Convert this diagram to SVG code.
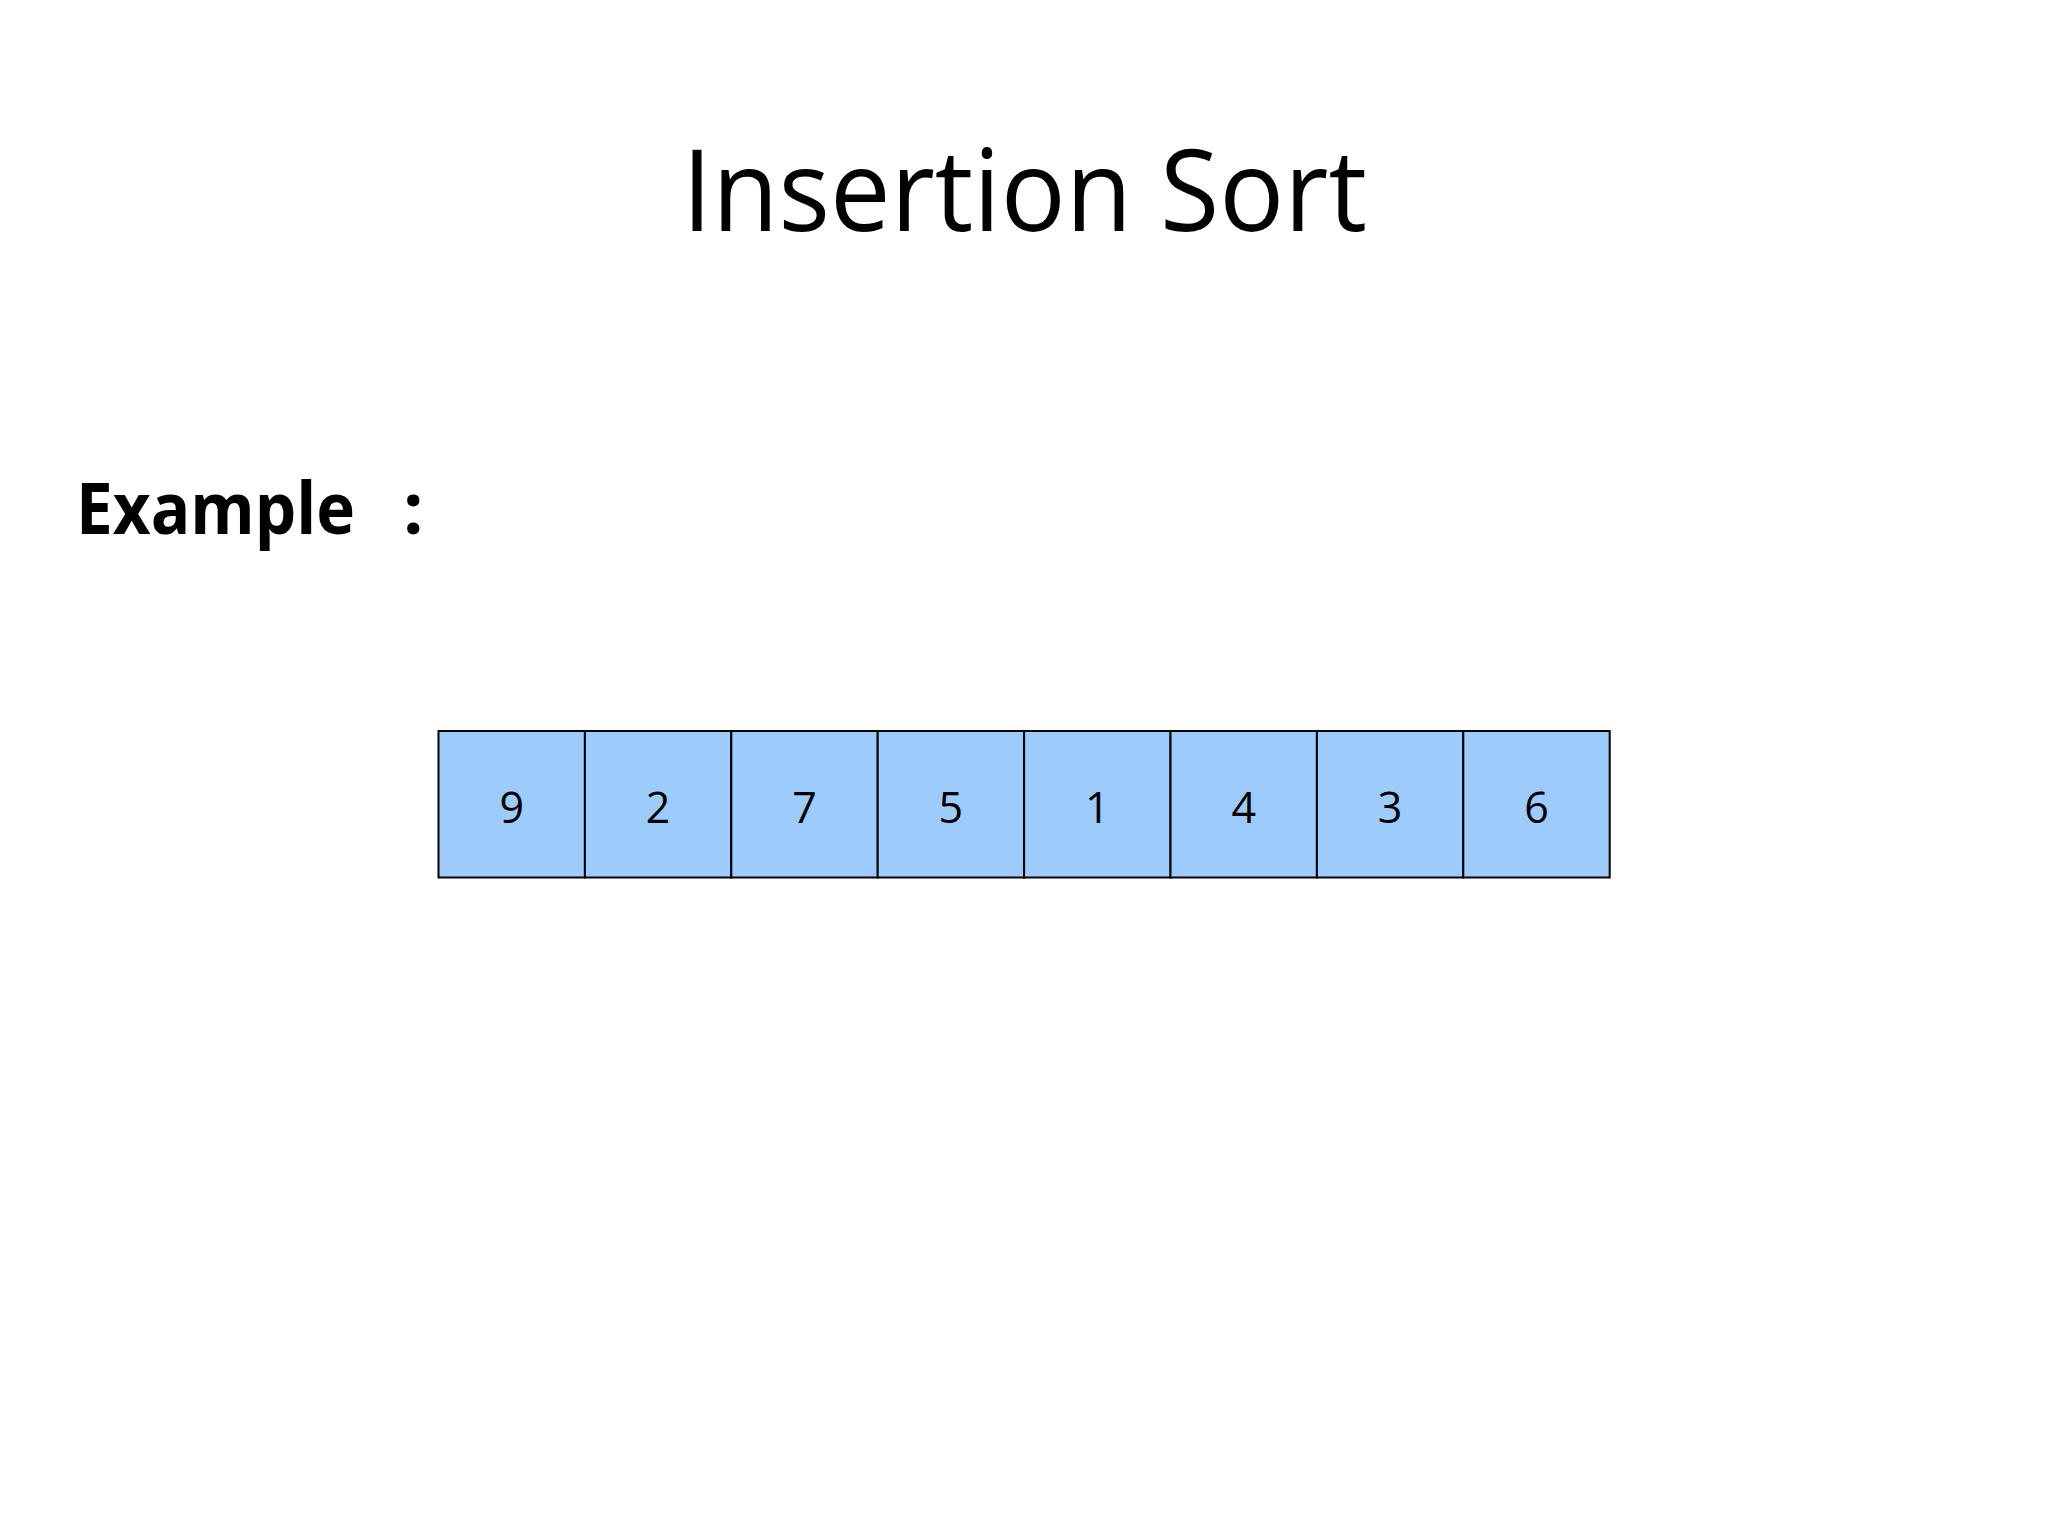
<svg xmlns="http://www.w3.org/2000/svg" width="2048" height="1536" viewBox="0 0 2048 1536">
<style>
.title{font-family:"Open Sans","Liberation Sans",sans-serif;font-size:113px;fill:#000}
.label{font-family:"Open Sans","Liberation Sans",sans-serif;font-size:72px;font-weight:bold;fill:#000}
.cell rect{fill:#9dcbfb;stroke:#000;stroke-width:2}
.cell text{font-family:"Open Sans","Liberation Sans",sans-serif;font-size:43px;fill:#000;text-anchor:middle}
</style>
<rect width="2048" height="1536" fill="#fff"/>
<text class="title" x="682" y="231" textLength="685" lengthAdjust="spacingAndGlyphs">Insertion Sort</text>
<text class="label" y="534"><tspan x="76" textLength="279" lengthAdjust="spacingAndGlyphs">Example</tspan><tspan x="403">:</tspan></text>
<g id="n0" class="cell"><rect x="438.5" y="731" width="146.4" height="146.5"/><text x="511.7" y="822.5">9</text></g>
<g id="n1" class="cell"><rect x="584.9" y="731" width="146.4" height="146.5"/><text x="658.1" y="822.5">2</text></g>
<g id="n2" class="cell"><rect x="731.3" y="731" width="146.4" height="146.5"/><text x="804.5" y="822.5">7</text></g>
<g id="n3" class="cell"><rect x="877.7" y="731" width="146.4" height="146.5"/><text x="950.9" y="822.5">5</text></g>
<g id="n4" class="cell"><rect x="1024.1" y="731" width="146.4" height="146.5"/><text x="1097.3" y="822.5">1</text></g>
<g id="n5" class="cell"><rect x="1170.5" y="731" width="146.4" height="146.5"/><text x="1243.7" y="822.5">4</text></g>
<g id="n6" class="cell"><rect x="1316.9" y="731" width="146.4" height="146.5"/><text x="1390.1" y="822.5">3</text></g>
<g id="n7" class="cell"><rect x="1463.3" y="731" width="146.4" height="146.5"/><text x="1536.5" y="822.5">6</text></g>
<g id="connectors"></g>
</svg>
